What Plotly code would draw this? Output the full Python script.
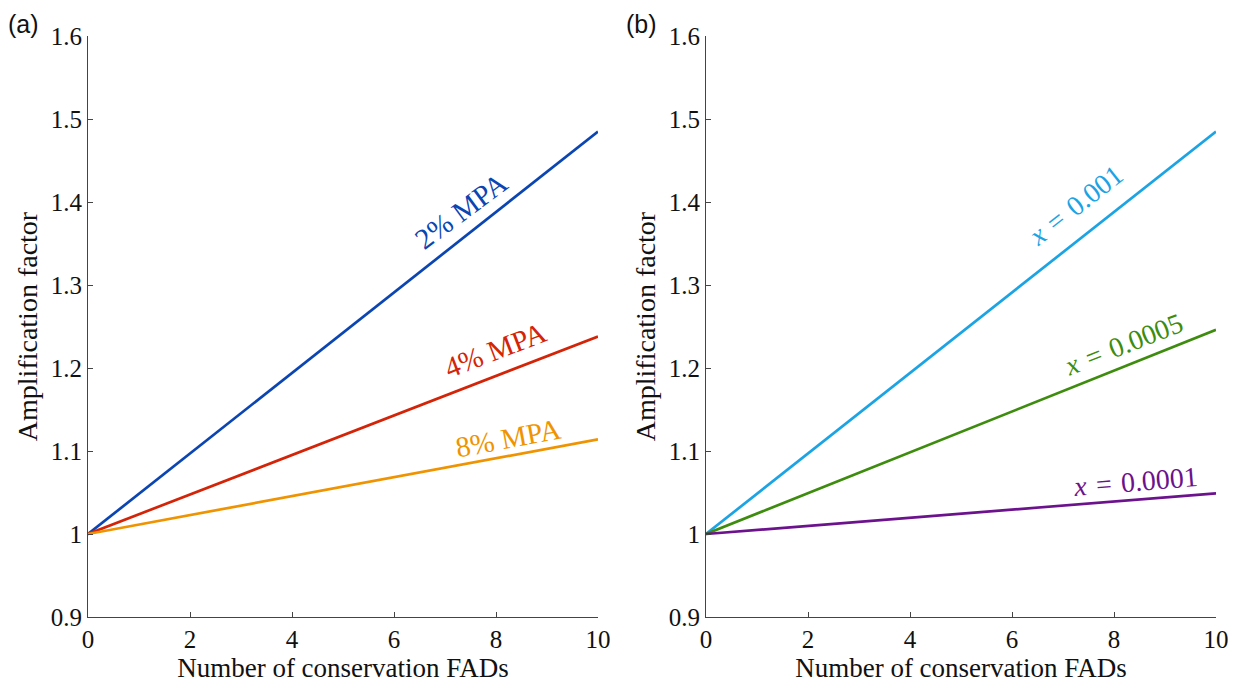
import plotly.graph_objects as go

# Data
x_fads = [0, 10]
mpa_2 = [1.0, 1.485]
mpa_4 = [1.0, 1.238]
mpa_8 = [1.0, 1.114]
x_001 = [1.0, 1.485]
x_0005 = [1.0, 1.246]
x_0001 = [1.0, 1.049]

y_ticks = [0.9, 1.0, 1.1, 1.2, 1.3, 1.4, 1.5, 1.6]
y_tick_text = ["0.9", "1", "1.1", "1.2", "1.3", "1.4", "1.5", "1.6"]
x_ticks = [0, 2, 4, 6, 8, 10]

C_BLUE = "#0b45b2"
C_RED = "#d42408"
C_ORANGE = "#ef9400"
C_LBLUE = "#1ba3e4"
C_GREEN = "#3d8c0e"
C_PURPLE = "#6b128c"

SERIF = "Liberation Serif"

# page body has an 8px margin; compensate so screen positions match
OFF = 8
W, H = 1237, 681
ML, MR, MT, MB = 88 - OFF, 21 + OFF, 36 - OFF, 64 + OFF
PW, PH = W - ML - MR, H - MT - MB

fig = go.Figure()
for ys, c in [(mpa_2, C_BLUE), (mpa_4, C_RED), (mpa_8, C_ORANGE)]:
    fig.add_trace(go.Scatter(x=x_fads, y=ys, mode="lines", line=dict(color=c, width=2.7),
                             xaxis="x", yaxis="y", showlegend=False))
for ys, c in [(x_001, C_LBLUE), (x_0005, C_GREEN), (x_0001, C_PURPLE)]:
    fig.add_trace(go.Scatter(x=x_fads, y=ys, mode="lines", line=dict(color=c, width=2.7),
                             xaxis="x2", yaxis="y2", showlegend=False))

axis_common = dict(showline=True, linecolor="#444", linewidth=1.2, ticks="inside",
                   ticklen=5, tickcolor="#444", showgrid=False, zeroline=False,
                   automargin=False,
                   tickfont=dict(family=SERIF, size=25, color="#111"))

xa = dict(axis_common, range=[0, 10], tickvals=x_ticks,
          title=dict(text="Number of conservation FADs", font=dict(family=SERIF, size=27, color="#111"), standoff=2))
ya = dict(axis_common, range=[0.9, 1.6], tickvals=y_ticks, ticktext=y_tick_text,
          title=dict(text="Amplification factor", font=dict(family=SERIF, size=28, color="#111"), standoff=4))

fig.update_layout(
    width=W, height=H,
    margin=dict(l=ML, r=MR, t=MT, b=MB),
    paper_bgcolor="white", plot_bgcolor="white",
    xaxis=dict(xa, domain=[0, 510 / PW], anchor="y"),
    yaxis=dict(ya, domain=[0, 1], anchor="x"),
    xaxis2=dict(xa, domain=[(706 - 88) / PW, 1], anchor="y2"),
    yaxis2=dict(ya, domain=[0, 1], anchor="x2"),
)

SP = "\u2004"
anns = [
    dict(x=7.31, y=1.389, text="2% MPA", color=C_BLUE, angle=-36.5, xr="x", yr="y", size=29),
    dict(x=7.98, y=1.222, text="4% MPA", color=C_RED, angle=-21, xr="x", yr="y", size=29),
    dict(x=8.24, y=1.116, text="8% MPA", color=C_ORANGE, angle=-10.5, xr="x", yr="y", size=29),
    dict(x=7.24, y=1.396, text=f"<i>x</i>{SP}={SP}0.001", color=C_LBLUE, angle=-38, xr="x2", yr="y2", size=28),
    dict(x=8.18, y=1.228, text=f"<i>x</i>{SP}={SP}0.0005", color=C_GREEN, angle=-21.5, xr="x2", yr="y2", size=28),
    dict(x=8.43, y=1.0627, text=f"<i>x</i>{SP}={SP}0.0001", color=C_PURPLE, angle=-4.6, xr="x2", yr="y2", size=28),
]
for a in anns:
    fig.add_annotation(x=a["x"], y=a["y"], xref=a["xr"], yref=a["yr"], text=a["text"],
                       textangle=a["angle"], showarrow=False,
                       font=dict(family=SERIF, size=a["size"], color=a["color"]))

for txt, px in [("(a)", 23), ("(b)", 641)]:
    fig.add_annotation(x=(px - OFF - ML) / PW, y=(H - MB - (24 - OFF)) / PH, xref="paper", yref="paper",
                       text=txt, xanchor="center", yanchor="middle",
                       showarrow=False, font=dict(family="Liberation Sans", size=25, color="#111"))

fig.write_html("out.html")
